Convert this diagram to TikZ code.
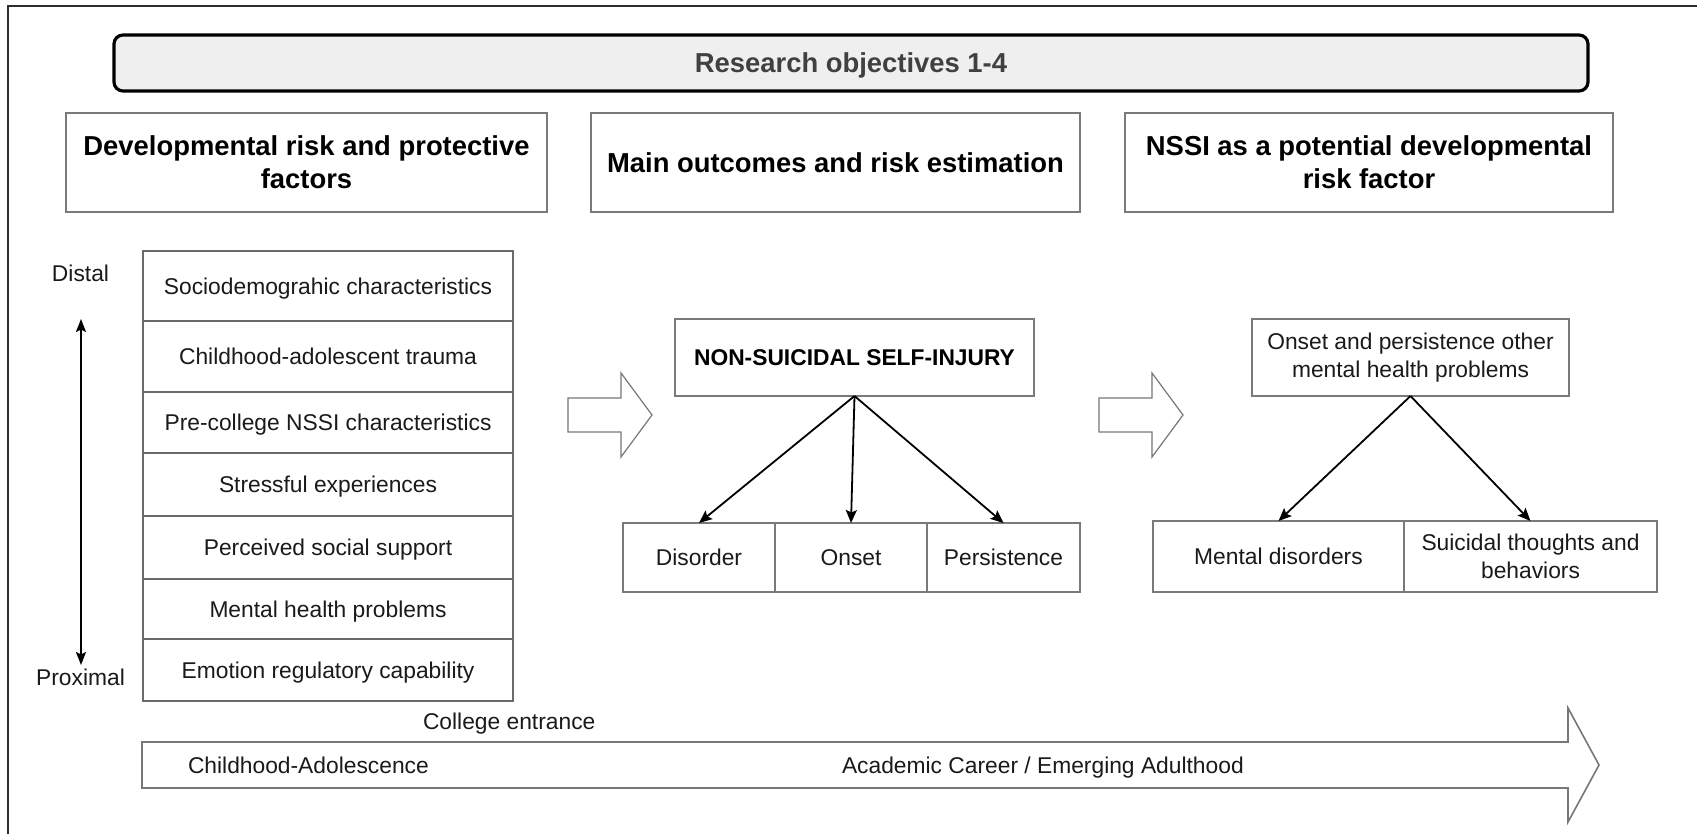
\documentclass[tikz,border=0pt]{standalone}
\usepackage{fontspec}
\setmainfont{Liberation Sans}
\usetikzlibrary{arrows.meta}
\definecolor{boxgray}{HTML}{7A7A7A}
\definecolor{listgray}{HTML}{6A6A6A}
\definecolor{framecol}{HTML}{2E2E2E}
\definecolor{titlefill}{HTML}{EFEFEF}
\definecolor{titletxt}{HTML}{404040}
\definecolor{txt}{HTML}{1A1A1A}
\definecolor{blockcol}{HTML}{777777}
\begin{document}
\begin{tikzpicture}[x=1pt,y=-1pt,
  oneline/.style={text height=20.5pt,text depth=4.2pt},
  box/.style={draw=boxgray,line width=1.3pt,inner sep=0pt,outer sep=0pt,align=center,
    font=\fontsize{22.8}{27.5}\selectfont,text=txt},
  listrow/.style={draw=listgray,line width=1.3pt,inner sep=0pt,outer sep=0pt,align=center,
    font=\fontsize{22.8}{27.5}\selectfont,text=txt,minimum width=370pt,oneline},
  headbox/.style={draw=boxgray,line width=1.3pt,inner sep=0pt,outer sep=0pt,align=center,
    font=\bfseries\fontsize{27.4}{33}\selectfont,minimum height=99pt},
  plain/.style={inner sep=0pt,outer sep=0pt,font=\fontsize{22.8}{27.5}\selectfont,text=txt,oneline},
  conn/.style={draw=black,line width=1.8pt,-{Stealth[length=13pt,width=11pt,inset=2.5pt]}},
  blockarrow/.style={draw=blockcol,line width=1.2pt,line join=miter}
]
\useasboundingbox (0,0) rectangle (1697,834);
\fill[white] (0,0) rectangle (1697,834);

% outer frame (cropped)
\draw[framecol,line width=1.5pt] (8,834) -- (8,6) -- (1697,6);

% title
\node[draw=black,fill=titlefill,line width=3.2pt,rounded corners=9pt,
  minimum width=1474pt,minimum height=56pt,inner sep=0pt,
  font=\bfseries\fontsize{27.4}{33}\selectfont,text=titletxt,
  text height=24.6pt,text depth=5pt] (title) at (851,63) {Research objectives 1-4};

% column headers
\node[headbox,minimum width=481pt] (h1) at (306.5,162.5) {Developmental risk and protective\\factors};
\node[headbox,minimum width=489pt,text height=24.6pt,text depth=5pt] (h2) at (835.5,162.5) {Main outcomes and risk estimation};
\node[headbox,minimum width=488pt] (h3) at (1369,162.5) {NSSI as a potential developmental\\risk factor};

% list of factors
\node[listrow,minimum height=70pt] (r1) at (328,286) {Sociodemograhic characteristics};
\node[listrow,minimum height=71pt] (r2) at (328,356.5) {Childhood-adolescent trauma};
\node[listrow,minimum height=61pt] (r3) at (328,422.5) {Pre-college NSSI characteristics};
\node[listrow,minimum height=63pt] (r4) at (328,484.5) {Stressful experiences};
\node[listrow,minimum height=63pt] (r5) at (328,547.5) {Perceived social support};
\node[listrow,minimum height=60pt] (r6) at (328,609) {Mental health problems};
\node[listrow,minimum height=62pt] (r7) at (328,670) {Emotion regulatory capability};

% distal / proximal
\node[plain] (distal) at (80.5,273) {Distal};
\node[plain] (proximal) at (80.5,677) {Proximal};
\coordinate (dtop) at (81,319);
\coordinate (dbot) at (81,665);
\draw[line width=1.8pt,{Stealth[length=13pt,width=10pt,inset=2.5pt]}-{Stealth[length=13pt,width=10pt,inset=2.5pt]}] (dtop) -- (dbot);

% block arrows
\draw[blockarrow] (568,398) -- (621,398) -- (621,373) -- (652,415) -- (621,457) -- (621,432) -- (568,432) -- cycle;
\draw[blockarrow] (1099,398) -- (1152,398) -- (1152,373) -- (1183,415) -- (1152,457) -- (1152,432) -- (1099,432) -- cycle;

% middle column
\node[box,oneline,minimum width=359pt,minimum height=77pt,font=\bfseries\fontsize{22.8}{27.5}\selectfont,text=black] (nssi) at (854.5,357.5) {NON-SUICIDAL SELF-INJURY};
\node[box,oneline,minimum width=152pt,minimum height=69pt] (dis) at (699,557.5) {Disorder};
\node[box,oneline,minimum width=152pt,minimum height=69pt] (ons) at (851,557.5) {Onset};
\node[box,oneline,minimum width=153pt,minimum height=69pt] (per) at (1003.5,557.5) {Persistence};
\draw[conn] (nssi.south) -- (dis.north);
\draw[conn] (nssi.south) -- (ons.north);
\draw[conn] (nssi.south) -- (per.north);

% right column
\node[box,minimum width=317pt,minimum height=77pt] (oth) at (1410.5,357.5) {Onset and persistence other\\mental health problems};
\node[box,oneline,minimum width=251pt,minimum height=71pt] (md) at (1278.5,556.5) {Mental disorders};
\node[box,minimum width=253pt,minimum height=71pt] (stb) at (1530.5,556.5) {Suicidal thoughts and\\behaviors};
\draw[conn] (oth.south) -- (md.north);
\draw[conn] (oth.south) -- (stb.north);

% timeline
\draw[blockarrow,line width=1.6pt] (142,742) -- (1568,742) -- (1568,708) -- (1599,765) -- (1568,822) -- (1568,788) -- (142,788) -- cycle;
\node[plain,anchor=west] (college) at (423,721) {College entrance};
\node[plain,anchor=west] (child) at (188,765) {Childhood-Adolescence};
\node[plain,anchor=west] (acad) at (842,765) {Academic Career / Emerging Adulthood};
\end{tikzpicture}
\end{document}
